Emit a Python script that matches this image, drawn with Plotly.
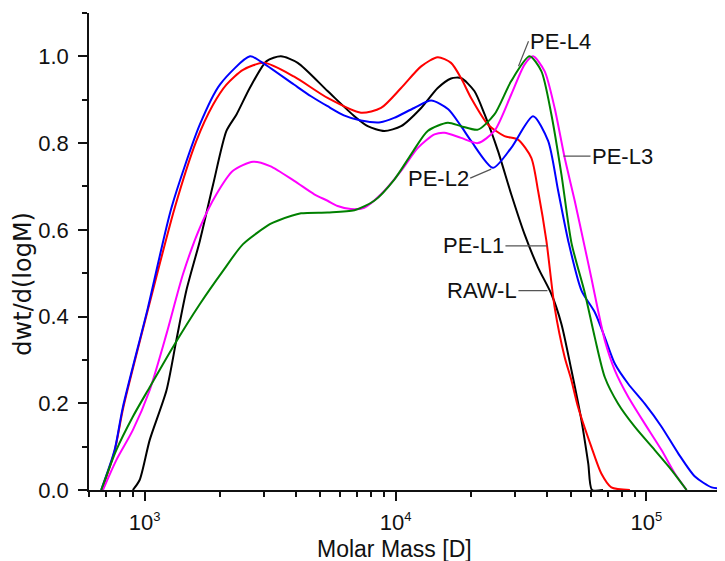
import numpy as np
import plotly.graph_objects as go

# ---------------- data ----------------
raw_m = [897, 955, 1047, 1222, 1337, 1466, 1660, 1875, 2118, 2323, 2624, 3062, 3491, 4074,
         5358, 6855, 7745, 9016, 10520, 12647, 14723, 16634, 18239, 20606, 22646, 25586,
         28907, 32659, 36983, 41783, 45814, 50234, 55081, 58614, 60674, 67143]
raw_v = [0.0, 0.023, 0.115, 0.23, 0.345, 0.46, 0.575, 0.705, 0.828, 0.866, 0.927, 0.989, 1.0, 0.985,
         0.92, 0.862, 0.839, 0.828, 0.839, 0.881, 0.927, 0.949, 0.95, 0.92, 0.866, 0.782,
         0.682, 0.59, 0.513, 0.452, 0.383, 0.276, 0.16, 0.061, 0.0, 0.0]

l1_m = [676, 759, 822, 1035, 1318, 1607, 1875, 2118, 2466, 2992, 3945, 5358, 7278, 8750,
        10520, 12647, 14723, 16634, 18239, 19999, 23335, 27164, 30761, 34754, 36983, 39902,
        43053, 47206, 50119, 53333, 60256, 66069, 72444, 85901]
l1_v = [0.0, 0.09, 0.19, 0.42, 0.651, 0.805, 0.889, 0.935, 0.969, 0.985, 0.953, 0.904, 0.870, 0.881,
        0.927, 0.977, 0.998, 0.985, 0.95, 0.904, 0.843, 0.816, 0.808, 0.766, 0.69, 0.575,
        0.421, 0.306, 0.255, 0.192, 0.10, 0.038, 0.006, 0.0]

l2_m = [671, 759, 818, 1030, 1279, 1660, 1995, 2630, 2904, 3936, 4603, 5358, 6223, 7278, 8710,
        9863, 11858, 13868, 16218, 18239, 19999, 24434, 28907, 35318, 40551, 44463, 48753,
        55081, 62230, 68234, 74817, 84528, 98401, 114815, 133968, 156000, 181970, 200000]
l2_v = [0.0, 0.092, 0.19, 0.42, 0.651, 0.843, 0.935, 1.0, 0.988, 0.935, 0.908, 0.885, 0.864, 0.852, 0.848,
        0.858, 0.881, 0.898, 0.878, 0.839, 0.805, 0.743, 0.789, 0.862, 0.805, 0.69, 0.575,
        0.46, 0.41, 0.352, 0.291, 0.245, 0.199, 0.146, 0.084, 0.031, 0.006, 0.003]

l3_m = [682, 771, 897, 1047, 1222, 1422, 1660, 1932, 2249, 2704, 3162, 3945, 4742, 5358, 5875,
        6637, 7499, 8750, 10520, 12274, 14289, 15668, 18239, 21281, 24774, 28907, 32659, 35318,
        39264, 43053, 47206, 51761, 56754, 60256, 64121, 68234, 74817, 84528, 98401, 114815,
        129718, 144544]
l3_v = [0.0, 0.069, 0.138, 0.23, 0.36, 0.498, 0.605, 0.682, 0.736, 0.757, 0.747, 0.713, 0.682, 0.667, 0.655,
        0.648, 0.651, 0.682, 0.736, 0.789, 0.82, 0.824, 0.812, 0.80, 0.828, 0.912, 0.981, 1.0,
        0.966, 0.881, 0.766, 0.667, 0.56, 0.49, 0.414, 0.345, 0.276, 0.215, 0.153, 0.092,
        0.038, 0.0]

l4_m = [671, 771, 897, 1047, 1297, 1660, 2056, 2466, 3155, 3388, 4198, 5358, 6855, 8222, 9886,
        11535, 13428, 16144, 18239, 21281, 24774, 28907, 34198, 38107, 41783, 45814, 50234,
        56754, 62230, 68234, 77090, 89743, 107895, 125893, 144544]
l4_v = [0.0, 0.092, 0.169, 0.237, 0.33, 0.429, 0.506, 0.567, 0.613, 0.621, 0.638, 0.64, 0.645, 0.667, 0.716,
        0.774, 0.828, 0.847, 0.839, 0.831, 0.866, 0.943, 1.0, 0.966, 0.866, 0.728, 0.57,
        0.455, 0.352, 0.26, 0.199, 0.146, 0.092, 0.046, 0.0]

series_names = ["RAW-L", "PE-L1", "PE-L2", "PE-L3", "PE-L4"]
series_colors = ["#000000", "#ff0000", "#0000ff", "#ff00ff", "#008000"]
series_m = [raw_m, l1_m, l2_m, l3_m, l4_m]
series_v = [raw_v, l1_v, l2_v, l3_v, l4_v]

# label anchor points on the curves (molar mass, value)
label_text = ["PE-L4", "PE-L3", "PE-L2", "PE-L1", "RAW-L"]
label_m = [30900, 46700, 24050, 40300, 40300]
label_v = [0.977, 0.770, 0.740, 0.563, 0.46]

x_tickvals = [1e3, 1e4, 1e5]
x_ticktext = ["10<sup><span style='font-size:13px'>3</span></sup>",
              "10<sup><span style='font-size:13px'>4</span></sup>",
              "10<sup><span style='font-size:13px'>5</span></sup>"]

FONT = "Liberation Sans, Arial, sans-serif"

fig = go.Figure()
for name, col, m, v in zip(series_names, series_colors, series_m, series_v):
    fig.add_trace(go.Scatter(x=m, y=v, mode="lines", name=name,
                             line=dict(color=col, width=2, shape="spline", smoothing=0.7)))

# label annotations with leader lines
offsets = [dict(ax=10, ay=-25, xanchor="left"),
           dict(ax=27, ay=0, xanchor="left"),
           dict(ax=-21, ay=9, xanchor="right"),
           dict(ax=-42, ay=0, xanchor="right"),
           dict(ax=-29, ay=0, xanchor="right")]
for t, m, v, o in zip(label_text, label_m, label_v, offsets):
    fig.add_annotation(x=np.log10(m), y=v, xref="x", yref="y", text=t,
                       showarrow=True, arrowhead=0, arrowwidth=1.2, arrowcolor="#555555",
                       standoff=0, yanchor="middle", borderpad=0,
                       font=dict(family=FONT, size=22, color="#111111"), **o)

# axis titles
fig.add_annotation(x=0.4834, y=-0.124, xref="paper", yref="paper", text="Molar Mass [D]",
                   showarrow=False, xanchor="center", yanchor="middle",
                   font=dict(family=FONT, size=23, color="#111111"))
fig.add_annotation(x=-0.104, y=0.433, xref="paper", yref="paper", text="dwt/d(logM)",
                   showarrow=False, textangle=-90, xanchor="center", yanchor="middle",
                   font=dict(family="DejaVu Sans, sans-serif", size=24, color="#111111"))

# the page adds an 8 px body margin, so the figure is sized/offset to compensate
fig.update_layout(
    width=717, height=553,
    margin=dict(l=81, r=3, t=5, b=71),
    paper_bgcolor="white", plot_bgcolor="white",
    showlegend=False,
    font=dict(family=FONT, size=22, color="#111111"),
)
fig.update_xaxes(type="log", range=[np.log10(600), np.log10(2e5)],
                 tickmode="array", tickvals=x_tickvals, ticktext=x_ticktext,
                 ticks="outside", ticklen=9, tickwidth=1.5, tickcolor="#111111",
                 showline=True, linecolor="#111111", linewidth=1.5,
                 showgrid=False, zeroline=False, automargin=False, ticklabelstandoff=3,
                 minor=dict(ticks="outside", ticklen=5, tickwidth=1.5, tickcolor="#111111",
                            dtick="D1", showgrid=False))
fig.update_yaxes(range=[0, 1.1], tick0=0, dtick=0.2, tickformat=".1f",
                 ticks="outside", ticklen=9, tickwidth=1.5, tickcolor="#111111",
                 showline=True, linecolor="#111111", linewidth=1.5,
                 showgrid=False, zeroline=False, ticklabelstandoff=5, automargin=False,
                 minor=dict(ticks="outside", ticklen=5, tickwidth=1.5, tickcolor="#111111",
                            dtick=0.1, showgrid=False))

fig.write_html("out.html")
